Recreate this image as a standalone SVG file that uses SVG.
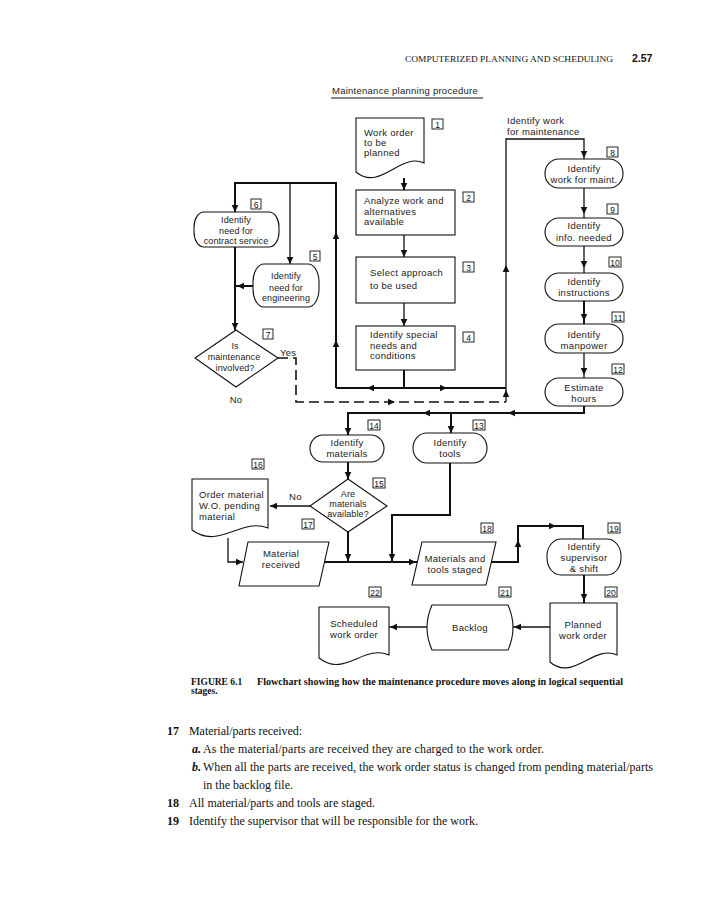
<svg xmlns="http://www.w3.org/2000/svg" xmlns:xlink="http://www.w3.org/1999/xlink" width="718" height="900" viewBox="0 0 718 900">
<style>
.t{font-family:"Liberation Sans",Arial,sans-serif;font-size:9.5px;letter-spacing:0.3px;fill:#1a1a1a}
.c{text-anchor:middle}
.sm{font-size:9px;letter-spacing:0.1px}
.n{fill:#fff;stroke:#111;stroke-width:1.1}
.lb rect{fill:#fff;stroke:#111;stroke-width:0.9}
.lb text{font-family:"Liberation Sans",Arial,sans-serif;font-size:8.5px;text-anchor:middle;fill:#111}
.k{fill:none;stroke:#111;stroke-width:2}
.k1{fill:none;stroke:#111;stroke-width:1.3}
.d{fill:none;stroke:#111;stroke-width:1.6;stroke-dasharray:10 5}
.s{font-family:"Liberation Serif","Times New Roman",serif;fill:#111}
</style>
<defs>
<path id="ah" d="M0,0 L-7,-3.3 L-7,3.3 Z" fill="#111"/>
</defs>
<rect width="718" height="900" fill="#fff"/>

<!-- page header -->
<text class="s" x="405" y="62" font-size="9" textLength="208" lengthAdjust="spacingAndGlyphs">COMPUTERIZED PLANNING AND SCHEDULING</text>
<text x="632" y="62" font-family="Liberation Sans,Arial,sans-serif" font-size="10.5" font-weight="bold" fill="#111">2.57</text>

<!-- title -->
<text class="t" x="332" y="94" textLength="146">Maintenance planning procedure</text>
<line x1="331" y1="98" x2="483" y2="98" stroke="#111" stroke-width="1"/>

<!-- connectors -->
<g id="connectors">
<path class="k" d="M404,178 V190"/>
<path class="k1" d="M404,235 V257"/>
<path class="k1" d="M404,303 V326"/>
<path class="k" d="M404,370 V388"/>
<path class="k" d="M336,388 H506"/>
<path class="k" d="M336,388 V183 H235 V212"/>
<path class="k1" d="M290,183 V264"/>
<path class="k" d="M254,286 H235"/>
<path class="k" d="M235,245 V330"/>
<path class="d" d="M278,358 H296 V402 H506"/>
<path class="k1" d="M506,402 V139 H584 V159"/>
<path class="k1" d="M584,188 V218"/>
<path class="k1" d="M584,246 V274"/>
<path class="k" d="M584,301 V324"/>
<path class="k1" d="M584,353 V378"/>
<path class="k" d="M584,406 V413 H348 V435"/>
<path class="k" d="M451,413 V433"/>
<path class="k" d="M348,462 V479"/>
<path class="k1" d="M310,506 H270"/>
<path class="k" d="M348,532 V562"/>
<path class="k" d="M450,463 V515 H392 V562"/>
<path class="k1" d="M228,538 V562 H243"/>
<path class="k" d="M324,562 H417"/>
<path class="k" d="M491,562 H518 V526 H583 V539"/>
<path class="k" d="M584,575 V603"/>
<path class="k1" d="M550,627 H513"/>
<path class="k1" d="M427,627 H389"/>
<!-- arrowheads -->
<use href="#ah" transform="translate(404,190) rotate(90)"/>
<use href="#ah" transform="translate(404,257) rotate(90)"/>
<use href="#ah" transform="translate(404,326) rotate(90)"/>
<use href="#ah" transform="translate(367,388) rotate(180)"/>
<use href="#ah" transform="translate(447,388)"/>
<use href="#ah" transform="translate(336,232) rotate(270)"/>
<use href="#ah" transform="translate(336,340) rotate(270)"/>
<use href="#ah" transform="translate(235,212) rotate(90)"/>
<use href="#ah" transform="translate(290,264) rotate(90)"/>
<use href="#ah" transform="translate(237,286) rotate(180)"/>
<use href="#ah" transform="translate(235,330) rotate(90)"/>
<use href="#ah" transform="translate(395,402)"/>
<use href="#ah" transform="translate(506,390) rotate(270)"/>
<use href="#ah" transform="translate(506,265) rotate(270)"/>
<use href="#ah" transform="translate(584,158) rotate(90)"/>
<use href="#ah" transform="translate(584,214) rotate(90)"/>
<use href="#ah" transform="translate(584,268) rotate(90)"/>
<use href="#ah" transform="translate(584,321) rotate(90)"/>
<use href="#ah" transform="translate(584,375) rotate(90)"/>
<use href="#ah" transform="translate(508,413) rotate(180)"/>
<use href="#ah" transform="translate(423,413) rotate(180)"/>
<use href="#ah" transform="translate(451,433) rotate(90)"/>
<use href="#ah" transform="translate(348,435) rotate(90)"/>
<use href="#ah" transform="translate(348,479) rotate(90)"/>
<use href="#ah" transform="translate(270,506) rotate(180)"/>
<use href="#ah" transform="translate(348,561) rotate(90)"/>
<use href="#ah" transform="translate(392,561) rotate(90)"/>
<use href="#ah" transform="translate(243,562)"/>
<use href="#ah" transform="translate(416,562)"/>
<use href="#ah" transform="translate(518,540) rotate(270)"/>
<use href="#ah" transform="translate(556,526)"/>
<use href="#ah" transform="translate(584,601) rotate(90)"/>
<use href="#ah" transform="translate(514,627) rotate(180)"/>
<use href="#ah" transform="translate(390,627) rotate(180)"/>
</g>

<!-- node 1 -->
<g id="n1">
<path class="n" d="M356,118 H424 V163 C400,152 380,192 356,172 Z"/>
<text class="t" x="364" y="136">Work order</text>
<text class="t" x="364" y="146">to be</text>
<text class="t" x="364" y="156">planned</text>
<g class="lb"><rect x="432" y="119" width="11" height="10"/><text x="437.5" y="127.5">1</text></g>
</g>
<g id="n2">
<rect class="n" x="356" y="190" width="99" height="45"/>
<text class="t" x="364" y="204">Analyze work and</text>
<text class="t" x="364" y="215">alternatives</text>
<text class="t" x="364" y="225">available</text>
<g class="lb"><rect x="463" y="192" width="11" height="10"/><text x="468.5" y="200.5">2</text></g>
</g>
<g id="n3">
<rect class="n" x="356" y="257" width="99" height="46"/>
<text class="t" x="370" y="276">Select approach</text>
<text class="t" x="370" y="289">to be used</text>
<g class="lb"><rect x="463" y="262" width="11" height="10"/><text x="468.5" y="270.5">3</text></g>
</g>
<g id="n4">
<rect class="n" x="356" y="326" width="99" height="44"/>
<text class="t" x="370" y="338">Identify special</text>
<text class="t" x="370" y="349">needs and</text>
<text class="t" x="370" y="359">conditions</text>
<g class="lb"><rect x="463" y="332" width="11" height="10"/><text x="468.5" y="340.5">4</text></g>
</g>
<g id="n5">
<rect class="n" x="253" y="264" width="66" height="43" rx="11" ry="18"/>
<text class="t c sm" x="286" y="279">Identify</text>
<text class="t c sm" x="286" y="291">need for</text>
<text class="t c sm" x="286" y="301">engineering</text>
<g class="lb"><rect x="310" y="251" width="10" height="10"/><text x="315" y="259.5">5</text></g>
</g>
<g id="n6">
<rect class="n" x="194" y="212" width="85" height="35" rx="10" ry="15"/>
<text class="t c sm" x="236" y="223">Identify</text>
<text class="t c sm" x="236" y="234">need for</text>
<text class="t c sm" x="236" y="244">contract service</text>
<g class="lb"><rect x="251" y="199" width="10" height="10"/><text x="256" y="207.5">6</text></g>
</g>
<g id="n7">
<path class="n" d="M236,330 L278,358 L236,387 L195,358 Z"/>
<text class="t c sm" x="235" y="349">Is</text>
<text class="t c sm" x="234" y="360">maintenance</text>
<text class="t c sm" x="235" y="371">involved?</text>
<text class="t" x="280" y="356">Yes</text>
<text class="t c" x="236" y="403">No</text>
<g class="lb"><rect x="263" y="329" width="10" height="10"/><text x="268" y="337.5">7</text></g>
</g>
<text class="t" x="507" y="124">Identify work</text>
<text class="t" x="507" y="135">for maintenance</text>
<g id="n8">
<rect class="n" x="545" y="159" width="78" height="29" rx="14" ry="14"/>
<text class="t c" x="584" y="172">Identify</text>
<text class="t c" x="584" y="183">work for maint.</text>
<g class="lb"><rect x="607" y="147" width="11" height="10"/><text x="612.5" y="155.5">8</text></g>
</g>
<g id="n9">
<rect class="n" x="545" y="218" width="78" height="28" rx="14" ry="14"/>
<text class="t c" x="584" y="229">Identify</text>
<text class="t c" x="584" y="241">info. needed</text>
<g class="lb"><rect x="607" y="204" width="11" height="10"/><text x="612.5" y="212.5">9</text></g>
</g>
<g id="n10">
<rect class="n" x="545" y="273" width="78" height="28" rx="14" ry="14"/>
<text class="t c" x="584" y="285">Identify</text>
<text class="t c" x="584" y="296">instructions</text>
<g class="lb"><rect x="609" y="257" width="12" height="10"/><text x="615" y="265.5">10</text></g>
</g>
<g id="n11">
<rect class="n" x="545" y="324" width="78" height="29" rx="14" ry="14"/>
<text class="t c" x="584" y="338">Identify</text>
<text class="t c" x="584" y="349">manpower</text>
<g class="lb"><rect x="612" y="312" width="12" height="10"/><text x="618" y="320.5">11</text></g>
</g>
<g id="n12">
<rect class="n" x="545" y="378" width="78" height="28" rx="14" ry="14"/>
<text class="t c" x="584" y="391">Estimate</text>
<text class="t c" x="584" y="402">hours</text>
<g class="lb"><rect x="612" y="364" width="12" height="10"/><text x="618" y="372.5">12</text></g>
</g>
<g id="n13">
<rect class="n" x="413" y="433" width="74" height="30" rx="14" ry="15"/>
<text class="t c" x="450" y="446">Identify</text>
<text class="t c" x="450" y="457">tools</text>
<g class="lb"><rect x="473" y="420" width="12" height="10"/><text x="479" y="428.5">13</text></g>
</g>
<g id="n14">
<rect class="n" x="310" y="435" width="74" height="27" rx="13" ry="13.5"/>
<text class="t c" x="347" y="446">Identify</text>
<text class="t c" x="347" y="457">materials</text>
<g class="lb"><rect x="368" y="420" width="12" height="10"/><text x="374" y="428.5">14</text></g>
</g>
<g id="n15">
<path class="n" d="M348,479 L387,506 L348,532 L310,506 Z"/>
<text class="t c sm" x="348" y="497">Are</text>
<text class="t c sm" x="348" y="507">materials</text>
<text class="t c sm" x="348" y="517">available?</text>
<text class="t" x="289" y="500">No</text>
<g class="lb"><rect x="373" y="478" width="12" height="10"/><text x="379" y="486.5">15</text></g>
</g>
<g id="n16">
<path class="n" d="M192,479 H268 V528 C241,517 219,550 192,530 Z"/>
<text class="t" x="199" y="498">Order material</text>
<text class="t" x="199" y="509">W.O. pending</text>
<text class="t" x="199" y="520">material</text>
<g class="lb"><rect x="252" y="459" width="12" height="10"/><text x="258" y="467.5">16</text></g>
</g>
<g id="n17">
<path class="n" d="M248,542 L329,542 L319,586 L239,586 Z"/>
<text class="t c" x="281" y="557">Material</text>
<text class="t c" x="281" y="568">received</text>
<g class="lb"><rect x="302" y="519" width="12" height="10"/><text x="308" y="527.5">17</text></g>
</g>
<g id="n18">
<path class="n" d="M422,542 L496,542 L486,585 L412,585 Z"/>
<text class="t c" x="455" y="562">Materials and</text>
<text class="t c" x="455" y="573">tools staged</text>
<g class="lb"><rect x="481" y="523" width="12" height="10"/><text x="487" y="531.5">18</text></g>
</g>
<g id="n19">
<rect class="n" x="547" y="539" width="74" height="36" rx="14" ry="17"/>
<text class="t c" x="584" y="550">Identify</text>
<text class="t c" x="584" y="561">supervisor</text>
<text class="t c" x="584" y="572">&amp; shift</text>
<g class="lb"><rect x="608" y="523" width="12" height="10"/><text x="614" y="531.5">19</text></g>
</g>
<g id="n20">
<path class="n" d="M550,603 H617 V655 C594,644 573,682 550,662 Z"/>
<text class="t c" x="583" y="628">Planned</text>
<text class="t c" x="583" y="639">work order</text>
<g class="lb"><rect x="605" y="587" width="12" height="10"/><text x="611" y="595.5">20</text></g>
</g>
<g id="n21">
<path class="n" d="M432,605 H508 Q518,627.5 508,650 H432 Q422,627.5 432,605 Z"/>
<text class="t c" x="470" y="631">Backlog</text>
<g class="lb"><rect x="499" y="587" width="12" height="10"/><text x="505" y="595.5">21</text></g>
</g>
<g id="n22">
<path class="n" d="M319,607 H389 V655 C364,644 344,678 319,658 Z"/>
<text class="t c" x="354" y="627">Scheduled</text>
<text class="t c" x="354" y="638">work order</text>
<g class="lb"><rect x="369" y="587" width="12" height="10"/><text x="375" y="595.5">22</text></g>
</g>

<!-- caption -->
<text class="s" x="191" y="685" font-size="9.5" font-weight="bold">FIGURE 6.1</text>
<text class="s" x="257" y="685" font-size="9.5" font-weight="bold" textLength="366" lengthAdjust="spacingAndGlyphs">Flowchart showing how the maintenance procedure moves along in logical sequential</text>
<text class="s" x="191" y="694" font-size="9.5" font-weight="bold">stages.</text>

<!-- body text -->
<g class="s" font-size="12">
<text x="167" y="735" font-weight="bold">17</text>
<text x="189" y="735" textLength="113">Material/parts received:</text>
<text x="192" y="753" font-weight="bold" font-style="italic">a.</text>
<text x="203" y="753" textLength="341">As the material/parts are received they are charged to the work order.</text>
<text x="192" y="771" font-weight="bold" font-style="italic">b.</text>
<text x="203" y="771" textLength="450">When all the parts are received, the work order status is changed from pending material/parts</text>
<text x="203" y="789">in the backlog file.</text>
<text x="167" y="807" font-weight="bold">18</text>
<text x="189" y="807" textLength="186">All material/parts and tools are staged.</text>
<text x="167" y="825" font-weight="bold">19</text>
<text x="189" y="825" textLength="289">Identify the supervisor that will be responsible for the work.</text>
</g>
</svg>
